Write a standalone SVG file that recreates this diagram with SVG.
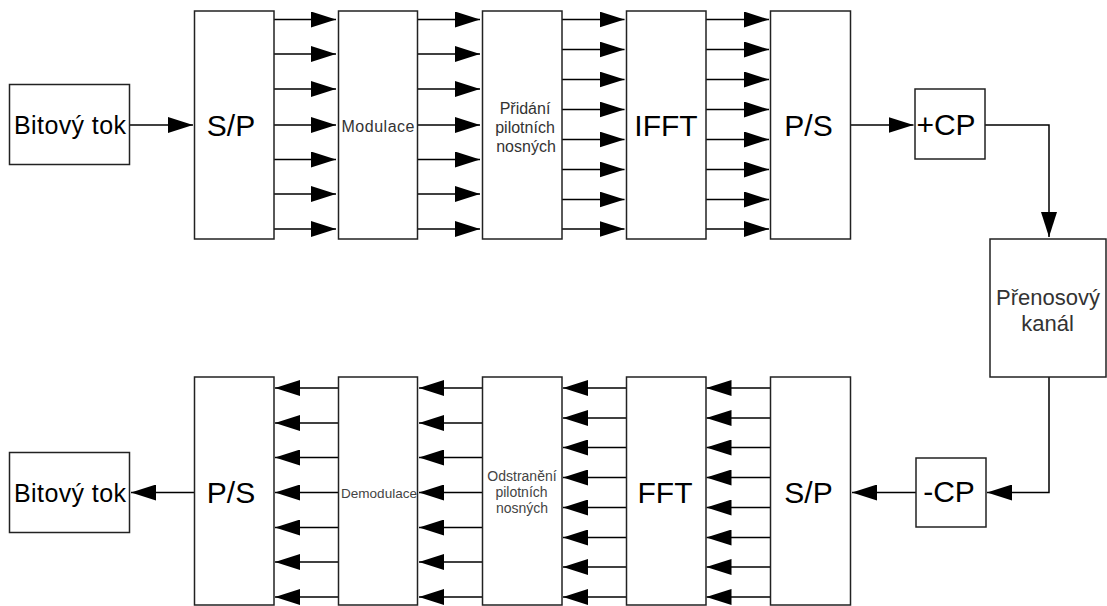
<svg xmlns="http://www.w3.org/2000/svg" width="1107" height="606" viewBox="0 0 1107 606">
<style>
.box{fill:#fff;stroke:#222;stroke-width:1.5}
.ln{fill:none;stroke:#000;stroke-width:1.5;marker-end:url(#ah)}
text{font-family:"Liberation Sans",Arial,sans-serif;text-anchor:middle}
.big{font-size:30px;fill:#000}
.mid{font-size:25px;fill:#000}
.ch{font-size:22px;fill:#333}
.sm{font-size:16px;fill:#333}
.xs{font-size:14px;fill:#444}
</style>
<defs>
<marker id="ah" markerUnits="userSpaceOnUse" markerWidth="25" markerHeight="16" refX="25" refY="8" orient="auto">
<path d="M0,0 L25,8 L0,16 z" fill="#000"/>
</marker>
</defs>
<rect width="1107" height="606" fill="#fff"/>
<g id="connectors">
<line class="ln" x1="130" y1="125" x2="193" y2="125"/>
<line class="ln" x1="274" y1="19.5" x2="336" y2="19.5"/>
<line class="ln" x1="274" y1="54" x2="336" y2="54"/>
<line class="ln" x1="274" y1="89" x2="336" y2="89"/>
<line class="ln" x1="274" y1="125" x2="336" y2="125"/>
<line class="ln" x1="274" y1="159.5" x2="336" y2="159.5"/>
<line class="ln" x1="274" y1="194" x2="336" y2="194"/>
<line class="ln" x1="274" y1="229" x2="336" y2="229"/>
<line class="ln" x1="418" y1="19.5" x2="480" y2="19.5"/>
<line class="ln" x1="418" y1="54" x2="480" y2="54"/>
<line class="ln" x1="418" y1="89" x2="480" y2="89"/>
<line class="ln" x1="418" y1="125" x2="480" y2="125"/>
<line class="ln" x1="418" y1="159.5" x2="480" y2="159.5"/>
<line class="ln" x1="418" y1="194" x2="480" y2="194"/>
<line class="ln" x1="418" y1="229" x2="480" y2="229"/>
<line class="ln" x1="562" y1="19.5" x2="624.5" y2="19.5"/>
<line class="ln" x1="562" y1="49.5" x2="624.5" y2="49.5"/>
<line class="ln" x1="562" y1="79.5" x2="624.5" y2="79.5"/>
<line class="ln" x1="562" y1="109.5" x2="624.5" y2="109.5"/>
<line class="ln" x1="562" y1="139.5" x2="624.5" y2="139.5"/>
<line class="ln" x1="562" y1="169.5" x2="624.5" y2="169.5"/>
<line class="ln" x1="562" y1="199.5" x2="624.5" y2="199.5"/>
<line class="ln" x1="562" y1="229" x2="624.5" y2="229"/>
<line class="ln" x1="706" y1="19.5" x2="769" y2="19.5"/>
<line class="ln" x1="706" y1="49.5" x2="769" y2="49.5"/>
<line class="ln" x1="706" y1="79.5" x2="769" y2="79.5"/>
<line class="ln" x1="706" y1="109.5" x2="769" y2="109.5"/>
<line class="ln" x1="706" y1="139.5" x2="769" y2="139.5"/>
<line class="ln" x1="706" y1="169.5" x2="769" y2="169.5"/>
<line class="ln" x1="706" y1="199.5" x2="769" y2="199.5"/>
<line class="ln" x1="706" y1="229" x2="769" y2="229"/>
<line class="ln" x1="851" y1="125" x2="913.5" y2="125"/>
<path class="ln" d="M985,125 H1049 V237"/>
<path class="ln" d="M1049,377 V492.5 H987"/>
<line class="ln" x1="916" y1="492.5" x2="852" y2="492.5"/>
<line class="ln" x1="771" y1="388" x2="706.5" y2="388"/>
<line class="ln" x1="771" y1="418" x2="706.5" y2="418"/>
<line class="ln" x1="771" y1="447.5" x2="706.5" y2="447.5"/>
<line class="ln" x1="771" y1="477.5" x2="706.5" y2="477.5"/>
<line class="ln" x1="771" y1="507.5" x2="706.5" y2="507.5"/>
<line class="ln" x1="771" y1="537.5" x2="706.5" y2="537.5"/>
<line class="ln" x1="771" y1="567" x2="706.5" y2="567"/>
<line class="ln" x1="771" y1="597" x2="706.5" y2="597"/>
<line class="ln" x1="627" y1="388" x2="563" y2="388"/>
<line class="ln" x1="627" y1="418" x2="563" y2="418"/>
<line class="ln" x1="627" y1="447.5" x2="563" y2="447.5"/>
<line class="ln" x1="627" y1="477.5" x2="563" y2="477.5"/>
<line class="ln" x1="627" y1="507.5" x2="563" y2="507.5"/>
<line class="ln" x1="627" y1="537.5" x2="563" y2="537.5"/>
<line class="ln" x1="627" y1="567" x2="563" y2="567"/>
<line class="ln" x1="627" y1="597" x2="563" y2="597"/>
<line class="ln" x1="482.5" y1="388" x2="419" y2="388"/>
<line class="ln" x1="482.5" y1="423" x2="419" y2="423"/>
<line class="ln" x1="482.5" y1="457.5" x2="419" y2="457.5"/>
<line class="ln" x1="482.5" y1="492.5" x2="419" y2="492.5"/>
<line class="ln" x1="482.5" y1="527.5" x2="419" y2="527.5"/>
<line class="ln" x1="482.5" y1="562" x2="419" y2="562"/>
<line class="ln" x1="482.5" y1="597" x2="419" y2="597"/>
<line class="ln" x1="338.5" y1="388" x2="275" y2="388"/>
<line class="ln" x1="338.5" y1="423" x2="275" y2="423"/>
<line class="ln" x1="338.5" y1="457.5" x2="275" y2="457.5"/>
<line class="ln" x1="338.5" y1="492.5" x2="275" y2="492.5"/>
<line class="ln" x1="338.5" y1="527.5" x2="275" y2="527.5"/>
<line class="ln" x1="338.5" y1="562" x2="275" y2="562"/>
<line class="ln" x1="338.5" y1="597" x2="275" y2="597"/>
<line class="ln" x1="194.5" y1="492.5" x2="131" y2="492.5"/>
</g>
<g id="tx-bitstream">
<rect class="box" x="9.5" y="84.5" width="120" height="80"/>
<text class="mid" x="70" y="133.5" textLength="112" lengthAdjust="spacing">Bitový tok</text>
</g>
<g id="tx-sp">
<rect class="box" x="194.5" y="11" width="79.5" height="228"/>
<text class="big" x="231" y="135.5">S/P</text>
</g>
<g id="tx-mod">
<rect class="box" x="338.5" y="11" width="79" height="228"/>
<text class="sm" x="378" y="131.5" textLength="73" lengthAdjust="spacing">Modulace</text>
</g>
<g id="tx-pilot">
<rect class="box" x="482.5" y="11" width="79.5" height="228"/>
<text class="sm" x="525" y="114">Přidání</text>
<text class="sm" x="525" y="133">pilotních</text>
<text class="sm" x="526" y="152">nosných</text>
</g>
<g id="tx-ifft">
<rect class="box" x="626.5" y="11" width="79.5" height="228"/>
<text class="big" x="666" y="135.5">IFFT</text>
</g>
<g id="tx-ps">
<rect class="box" x="770.5" y="11" width="80" height="228"/>
<text class="big" x="808.5" y="135.5">P/S</text>
</g>
<g id="tx-cp">
<rect class="box" x="915" y="89" width="70" height="70"/>
<text class="big" x="946" y="135">+CP</text>
</g>
<g id="channel">
<rect class="box" x="990" y="239" width="116" height="138"/>
<text class="ch" x="1048" y="305">Přenosový</text>
<text class="ch" x="1047.5" y="331">kanál</text>
</g>
<g id="rx-cp">
<rect class="box" x="916" y="458" width="70" height="69"/>
<text class="big" x="949" y="501.7">-CP</text>
</g>
<g id="rx-sp">
<rect class="box" x="770.5" y="377" width="80" height="228"/>
<text class="big" x="808.5" y="503">S/P</text>
</g>
<g id="rx-fft">
<rect class="box" x="626.5" y="377" width="79.5" height="228"/>
<text class="big" x="665" y="503">FFT</text>
</g>
<g id="rx-pilot">
<rect class="box" x="482.5" y="377" width="79.5" height="228"/>
<text class="xs" x="522" y="481">Odstranění</text>
<text class="xs" x="521.5" y="497">pilotních</text>
<text class="xs" x="522" y="512.5">nosných</text>
</g>
<g id="rx-demod">
<rect class="box" x="338.5" y="377" width="79" height="228"/>
<text class="xs" x="379" y="498" textLength="76" lengthAdjust="spacingAndGlyphs" style="font-size:13.5px">Demodulace</text>
</g>
<g id="rx-ps">
<rect class="box" x="194.5" y="377" width="79.5" height="228"/>
<text class="big" x="231" y="503">P/S</text>
</g>
<g id="rx-bitstream">
<rect class="box" x="9.5" y="452.5" width="120" height="80"/>
<text class="mid" x="70" y="501.5" textLength="112" lengthAdjust="spacing">Bitový tok</text>
</g>
</svg>
